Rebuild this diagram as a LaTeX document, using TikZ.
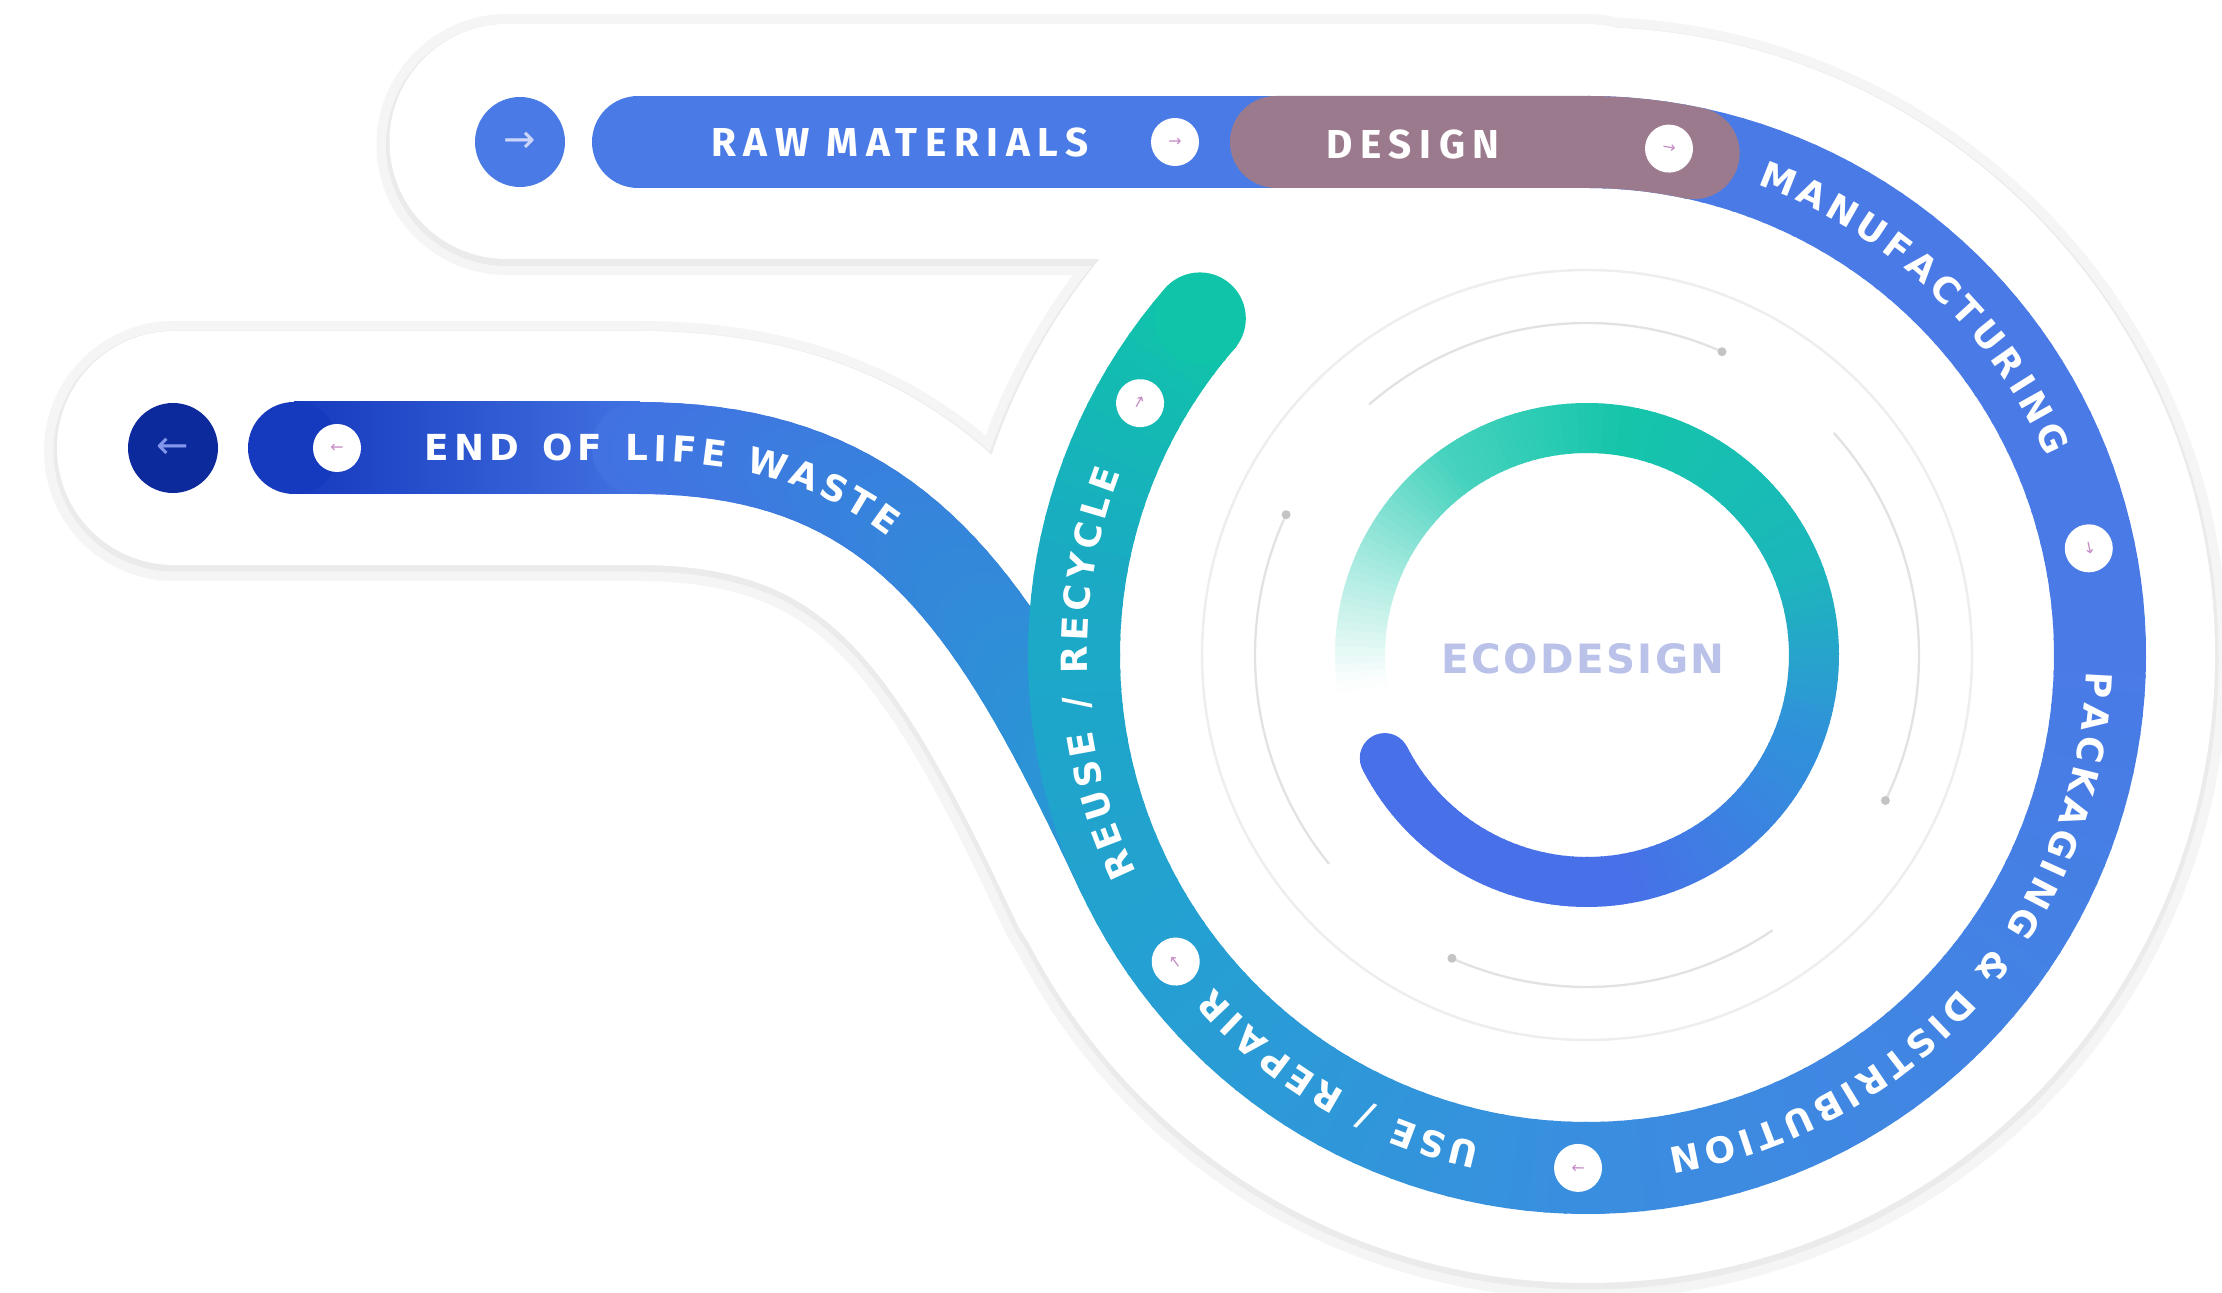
\documentclass[tikz,border=0pt]{standalone}
\usepackage{fontspec}
\usetikzlibrary{decorations.text}

\newfontfamily\bandfont{DejaVu Sans}
\newfontfamily\capfont{Fira Sans}[LetterSpace=19]
\newfontfamily\ecofont{DejaVu Sans}[LetterSpace=6]
\newfontfamily\glyphfont{DejaVu Sans}

% band colours
\definecolor{bandA}{RGB}{74,122,230}
\definecolor{bandB}{RGB}{58,142,224}
\definecolor{bandC}{RGB}{36,160,210}
\definecolor{bandD}{RGB}{26,170,196}
\definecolor{bandE}{RGB}{15,196,168}
\definecolor{designband}{RGB}{156,122,142}
\definecolor{wasteA}{RGB}{22,58,190}
\definecolor{wasteB}{RGB}{66,114,226}
\definecolor{wasteC}{RGB}{40,152,212}
\definecolor{navy}{RGB}{12,42,156}
% inner ring colours
\definecolor{ecoA}{RGB}{72,112,232}
\definecolor{ecoB}{RGB}{48,146,218}
\definecolor{ecoC}{RGB}{28,182,188}
\definecolor{ecoD}{RGB}{20,197,170}
\definecolor{ecoE}{RGB}{70,210,190}
\definecolor{ecoF}{RGB}{175,236,226}
\definecolor{ecotext}{RGB}{186,194,234}
% decoration colours
\definecolor{orbit}{RGB}{226,226,226}
\definecolor{orbitfaint}{RGB}{238,238,238}
\definecolor{orbitdot}{RGB}{196,196,196}
\definecolor{tick}{RGB}{196,140,196}
\definecolor{startarrow}{RGB}{205,214,250}
\definecolor{backarrow}{RGB}{130,150,235}

% centre and radii of the loop
\def\ccx{15.87}
\def\ccy{6.38}
\def\rr{5.13}
\def\er{2.27}

\tikzset{
  waypoint/.style={circle, fill=white, minimum size=0.48cm, inner sep=0pt},
  endcap/.style={circle, minimum size=0.9cm, inner sep=0pt},
  orbitline/.style={draw=orbit, line width=0.65pt},
}

% letters of the curved labels, each widened by a fixed kern
\newcommand\labelstyle{\bandfont\bfseries\fontsize{10.2}{11}\selectfont\color{white}\kern1.5pt}
\newcommand\tickglyph[1]{{\glyphfont\fontsize{4.5}{5}\selectfont\color{tick}#1}}

% text set along a clockwise stretch of the loop
\newcommand\bandlabel[3]{%
  \path[decorate, decoration={text along path, text={|\labelstyle|#3},
        text align=center, raise=-3.7pt}]
    ({\ccx+\rr*cos(#1)},{\ccy+\rr*sin(#1)}) arc[start angle=#1, end angle=#2, radius=\rr];}

% arc drawn in short pieces, colour blended from #7 to #8
\newcommand\gradarc[8]{%
  \pgfmathtruncatemacro\gnseg{max(1,abs(#6-#5)/2)}%
  \foreach \gi in {1,...,\gnseg}{%
    \pgfmathsetmacro\gsa{#5+(#6-#5)*(\gi-1)/\gnseg}%
    \pgfmathsetmacro\gsb{#5+(#6-#5)*\gi/\gnseg+0.4*sign(#6-#5)}%
    \pgfmathtruncatemacro\gpc{100*(\gi-0.5)/\gnseg}%
    \draw[line width=#4, color=#8!\gpc!#7]
      ({#1+#3*cos(\gsa)},{#2+#3*sin(\gsa)}) arc[start angle=\gsa, end angle=\gsb, radius=#3];
  }}

% white marker on the loop, arrow along the flow
\newcommand\ringstop[2]{%
  \node[waypoint, rotate=#2-90] (#1) at ({\ccx+\rr*cos(#2)},{\ccy+\rr*sin(#2)}) {\tickglyph{→}};}

\begin{document}
\begin{tikzpicture}
\useasboundingbox (0,0) rectangle (22.22,12.93);
\fill[white] (0,0) rectangle (22.22,12.93);

% ---- soft backdrop behind the whole track ----
\begin{scope}[yshift=-0.03cm]
  \draw[black!4, line width=0.26cm] (\ccx,\ccy) circle (6.28);
  \draw[black!4, line width=2.61cm, line cap=round] (5.07,11.51) -- (15.87,11.51);
  \draw[black!4, line width=2.60cm, line cap=round]
    (1.74,8.45) -- (6.38,8.45) .. controls (9.0,8.45) and (9.951,6.928) .. (11.22,4.21);
  \draw[black!8, line width=0.07cm] (\ccx,\ccy) circle (6.28);
  \draw[black!8, line width=2.42cm, line cap=round] (5.07,11.51) -- (15.87,11.51);
  \draw[black!8, line width=2.41cm, line cap=round]
    (1.74,8.45) -- (6.38,8.45) .. controls (9.0,8.45) and (9.951,6.928) .. (11.22,4.21);
\end{scope}
\fill[white] (\ccx,\ccy) circle (6.28);
\draw[white, line width=2.35cm, line cap=round] (5.07,11.51) -- (15.87,11.51);
\draw[white, line width=2.34cm, line cap=round]
  (1.74,8.45) -- (6.38,8.45) .. controls (9.0,8.45) and (9.951,6.928) .. (11.22,4.21);

% ---- grey orbits round the centre ----
\draw[draw=orbitfaint, line width=0.7pt] (\ccx,\ccy) circle (3.85);
\foreach \oa/\ob in {131/66, 42/-26, -56/-114, -141/-205}{
  \draw[orbitline] ({\ccx+3.32*cos(\oa)},{\ccy+3.32*sin(\oa)}) arc[start angle=\oa, end angle=\ob, radius=3.32];
  \fill[orbitdot] ({\ccx+3.32*cos(\ob)},{\ccy+3.32*sin(\ob)}) circle (0.045);
}

% ---- ECODESIGN ring ----
\gradarc{\ccx}{\ccy}{\er}{0.50cm}{207}{280}{ecoA}{ecoA}
\gradarc{\ccx}{\ccy}{\er}{0.50cm}{280}{340}{ecoA}{ecoB}
\gradarc{\ccx}{\ccy}{\er}{0.50cm}{340}{380}{ecoB}{ecoC}
\gradarc{\ccx}{\ccy}{\er}{0.50cm}{380}{440}{ecoC}{ecoD}
\gradarc{\ccx}{\ccy}{\er}{0.50cm}{440}{485}{ecoD}{ecoE}
\gradarc{\ccx}{\ccy}{\er}{0.50cm}{485}{520}{ecoE}{ecoF}
\gradarc{\ccx}{\ccy}{\er}{0.50cm}{520}{548}{ecoF}{white}
\fill[ecoA] ({\ccx+\er*cos(207)},{\ccy+\er*sin(207)}) circle (0.25);
\node[font=\ecofont\bfseries\fontsize{11.5}{12}\selectfont, text=ecotext] (eco) at (15.83,6.34) {ECODESIGN};

% ---- END OF LIFE WASTE branch ----
\shade[left color=wasteA, right color=wasteB] (2.94,7.99) rectangle (6.40,8.91);
\fill[wasteA] (2.94,8.45) circle (0.46);
\foreach \wi in {0,...,39}{
  \pgfmathsetmacro\wta{\wi/40}
  \pgfmathsetmacro\wtb{(\wi+1)/40}
  \pgfmathtruncatemacro\wpc{100*(\wi+0.5)/40}
  \path (6.38,8.45) .. controls (9.0,8.45) and (9.951,6.928) .. (11.22,4.21)
    coordinate[pos=\wta] (wu) coordinate[pos=\wtb] (wv);
  \draw[line width=0.92cm, line cap=round, color=wasteC!\wpc!wasteB] (wu) -- (wv);
}

% ---- main track: straight run and loop ----
\draw[bandA, line width=0.92cm, line cap=round] (6.38,11.51) -- (15.89,11.51);
\gradarc{\ccx}{\ccy}{\rr}{0.92cm}{90}{0}{bandA}{bandA}
\gradarc{\ccx}{\ccy}{\rr}{0.92cm}{0}{-90}{bandA}{bandB}
\gradarc{\ccx}{\ccy}{\rr}{0.92cm}{-90}{-145}{bandB}{bandC}
\gradarc{\ccx}{\ccy}{\rr}{0.92cm}{-145}{-190}{bandC}{bandD}
\gradarc{\ccx}{\ccy}{\rr}{0.92cm}{-190}{-221}{bandD}{bandE}
\fill[bandE] ({\ccx+\rr*cos(139)},{\ccy+\rr*sin(139)}) circle (0.46);

% design stretch
\draw[designband, line width=0.92cm, line cap=round]
  (12.76,11.51) -- (15.87,11.51) arc[start angle=90, end angle=78, radius=\rr];

% ---- labels ----
\node[font=\capfont\bfseries\fontsize{11.5}{12}\selectfont, text=white] (raw) at (9.00,11.50) {RAW MATERIALS};
\node[font=\capfont\bfseries\fontsize{11.5}{12}\selectfont, text=white] (design) at (14.13,11.48) {DESIGN};

\bandlabel{90}{4}{MANUFACTURING}
\bandlabel{9}{-91}{PACKAGING {\&} DISTRIBUTION}
\bandlabel{-92}{-148}{USE / REPAIR}
\bandlabel{212}{153}{REUSE / RECYCLE}

\path[decorate, decoration={text along path, text={|\labelstyle|END OF LIFE WASTE},
      text align={left indent=1.25cm}, raise=-3.7pt}]
  (2.94,8.45) -- (6.38,8.45) .. controls (9.0,8.45) and (9.951,6.928) .. (11.22,4.21);

% ---- markers ----
\node[waypoint] (rawstop) at (11.75,11.51) {\tickglyph{→}};
\ringstop{designstop}{80.8}
\ringstop{mfgstop}{12}
\ringstop{packstop}{-91}
\ringstop{usestop}{-143.3}
\ringstop{reusestop}{150.6}
\node[waypoint] (eolstop) at (3.37,8.45) {\tickglyph{←}};

\node[endcap, fill=bandA] (start) at (5.20,11.51)
  {\glyphfont\fontsize{11}{12}\selectfont\color{startarrow}→};
\node[endcap, fill=navy] (finish) at (1.73,8.45)
  {\glyphfont\fontsize{11}{12}\selectfont\color{backarrow}←};
\end{tikzpicture}
\end{document}
